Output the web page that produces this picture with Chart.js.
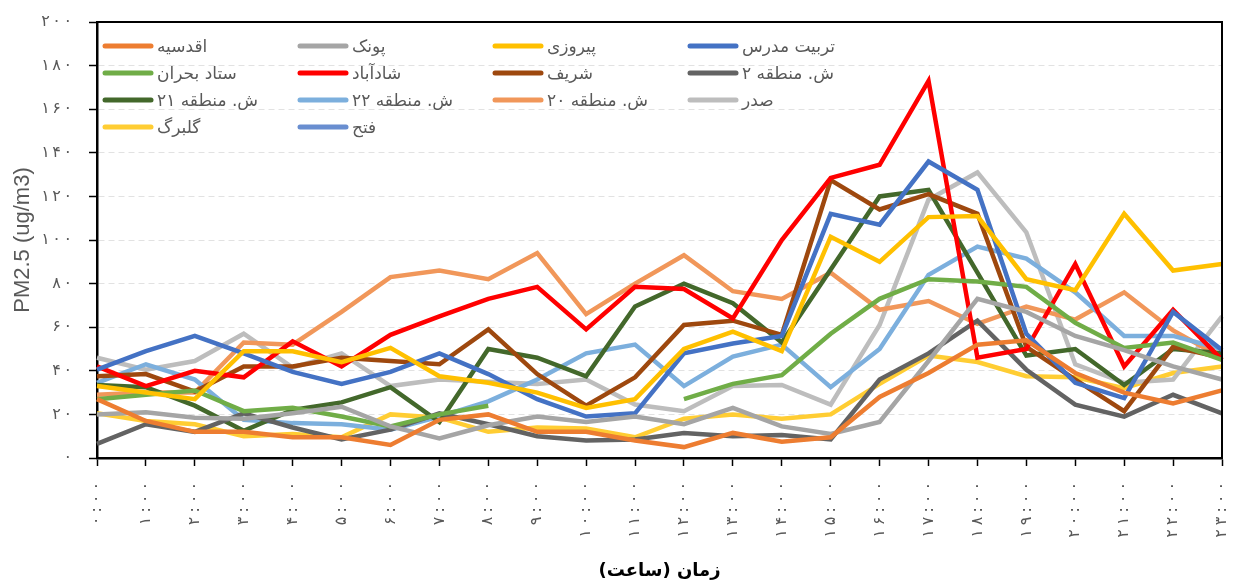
<!DOCTYPE html>
<html>
<head>
<meta charset="utf-8">
<script src="https://cdn.jsdelivr.net/npm/chart.js@4.4.1/dist/chart.umd.min.js"></script>
<style>
  html, body { margin: 0; padding: 0; background: #fff; }
  canvas { display: block; }
</style>
</head>
<body>
<canvas id="pm25Chart" width="1234" height="584"></canvas>
<script>
// ساعت‌های روز
const hourLabels = ['۰:۰۰', '۱:۰۰', '۲:۰۰', '۳:۰۰', '۴:۰۰', '۵:۰۰', '۶:۰۰', '۷:۰۰', '۸:۰۰', '۹:۰۰', '۱۰:۰۰', '۱۱:۰۰',
    '۱۲:۰۰', '۱۳:۰۰', '۱۴:۰۰', '۱۵:۰۰', '۱۶:۰۰', '۱۷:۰۰', '۱۸:۰۰', '۱۹:۰۰', '۲۰:۰۰', '۲۱:۰۰', '۲۲:۰۰', '۲۳:۰۰'];
const yTickLabels = ['۰', '۲۰', '۴۰', '۶۰', '۸۰', '۱۰۰', '۱۲۰', '۱۴۰', '۱۶۰', '۱۸۰', '۲۰۰'];

const stationNames = ['اقدسیه', 'پونک', 'پیروزی', 'تربیت مدرس', 'ستاد بحران', 'شادآباد', 'شریف',
    'ش. منطقه ۲', 'ش. منطقه ۲۱', 'ش. منطقه ۲۲', 'ش. منطقه ۲۰', 'صدر', 'گلبرگ', 'فتح'];
const stationColors = ['#ED7D31', '#A5A5A5', '#FFC000', '#4472C4', '#70AD47', '#FF0000', '#9E480E',
    '#636363', '#43682B', '#7CAFDD', '#F1975A', '#BDBDBD', '#FFCD33', '#698ED0'];

const aghdasieh = [27, 17, 12, 12, 9.5, 9.5, 6, 17.5, 20, 12, 12, 8, 5, 11.5, 7.5, 9.5, 28, 39, 52, 54, 39, 30, 25, 31];
const pounak = [20, 21, 18.5, 18, 20.5, 23.5, 14.5, 9, 15, 19, 16.5, 19, 15.5, 23, 14.5, 11, 16.5, 44.5, 73, 67, 56, 49.5, 42, 36];
const pirouzi = [33, 30, 27, 49, 49, 44, 50.5, 37.5, 34.5, 30, 23, 27, 50, 58, 49, 101.5, 90, 110.5, 111, 82, 77, 112, 86, 89];
const tarbiatModares = [40.5, 49, 56, 48, 39.5, 34, 39.5, 48, 38.5, 27, 19, 20.5, 48, 52.5, 56, 112, 107, 136, 123, 57, 34.5, 27.5, 67, 49.5];
const setadBohran = [27, 29, 31, 21.5, 23, 19, 14.5, 20, 24, null, null, null, 27, 34, 38, 57, 73, 82, 81, 78.5, 62, 50.5, 53, 45];
const shadabad = [42, 33, 40, 37, 53.5, 42, 56.5, 65, 73, 78.5, 59, 78.5, 77.5, 64, 100, 128.5, 134.5, 173, 46, 50, 89, 42, 68, 45];
const sharif = [37.5, 38.5, 30.5, 42, 42, 46, 44.5, 43, 59, 38.5, 24, 37, 61, 63, 56.5, 127.5, 114, 121, 112, 51, 36, 21.5, 51, 46];
const mantaghe2 = [6.5, 15.5, 12, 20.5, 14, 8.5, 13, 20.5, 15.5, 10, 8, 8.5, 11.5, 10, 10.5, 8.5, 36, 48, 63, 40.5, 24.5, 19, 29, 20.5];
const mantaghe21 = [33.5, 32.5, 24, 12.5, 22, 25.5, 32.5, 16.5, 50, 46, 37.5, 69.5, 80, 71, 53, 86.5, 120, 123, 85, 47, 50, 33.5, 50, 48];
const mantaghe22 = [34.5, 43, 36, 17.5, 16, 15.5, 13, 19, 26, 36, 48, 52, 33, 46.5, 52, 32.5, 50, 84, 97, 91.5, 76, 56, 56, 50];
const mantaghe20 = [29, 30, 30, 53, 52, 67, 83, 86, 82, 94, 66, 80, 93, 76.5, 73, 85, 68, 72, 61.5, 69.5, 63.5, 76, 58.5, 46];
const sadr = [46, 40.5, 44.5, 57, 41.5, 48, 33, 36, 35, 34, 36, 24.5, 21.5, 33, 33.5, 24.5, 61, 118.5, 131, 103.5, 43, 34.5, 36, 65];
const golbarg = [20.5, 17, 15.5, 10, 11, 9.5, 20, 18.5, 12, 14, 13.5, 9.5, 18, 20, 18, 20, 34, 47, 44, 37.5, 37, 32, 39, 42];
const fath = [];

const stationData = [aghdasieh, pounak, pirouzi, tarbiatModares, setadBohran, shadabad, sharif,
    mantaghe2, mantaghe21, mantaghe22, mantaghe20, sadr, golbarg, fath];

// tick labels are drawn after the datasets (ticks.z = 1).
// the digits in the original are spaced wider, so draw them one by one with a gap
const spacedTickText = {
    id: 'spacedTickText',
    afterDatasetsDraw(chart) {
        const ctx = chart.ctx;
        const plainFill = CanvasRenderingContext2D.prototype.fillText;
        ctx.fillText = function (text, x, y) {
            const chars = Array.from(String(text));
            const gap = ctx.getTransform().b !== 0 ? 4 : 2.5;
            const widths = chars.map(c => ctx.measureText(c).width);
            const total = widths.reduce((a, b) => a + b, 0) + gap * (chars.length - 1);
            const align = ctx.textAlign;
            let cx = x;
            if (align === 'right' || align === 'end') cx = x - total;
            else if (align === 'center') cx = x - total / 2;
            ctx.textAlign = 'left';
            chars.forEach((c, k) => {
                plainFill.call(ctx, c, cx, y);
                cx += widths[k] + gap;
            });
            ctx.textAlign = align;
        };
    },
    afterDraw(chart) {
        delete chart.ctx.fillText;
    }
};

// legend drawn inside the plot, 4 columns like the excel one
const insideLegend = {
    id: 'insideLegend',
    afterDraw(chart) {
        const { ctx, chartArea } = chart;
        ctx.save();
        ctx.font = '17px "DejaVu Sans", sans-serif';
        ctx.textBaseline = 'middle';
        ctx.direction = 'rtl';
        ctx.textAlign = 'left';
        chart.data.datasets.forEach((ds, i) => {
            const col = i % 4;
            const row = Math.floor(i / 4);
            const x = chartArea.left + 8 + col * 195;
            const y = chartArea.top + 24 + row * 27;
            ctx.strokeStyle = ds.borderColor;
            ctx.lineWidth = 5;
            ctx.lineCap = 'round';
            ctx.beginPath();
            ctx.moveTo(x, y);
            ctx.lineTo(x + 46, y);
            ctx.stroke();
            ctx.fillStyle = '#595959';
            ctx.fillText(ds.label, x + 52, y + 2);
        });
        ctx.restore();
    }
};

// top and right edges of the plot box
const plotFrame = {
    id: 'plotFrame',
    afterDraw(chart) {
        const { ctx, chartArea } = chart;
        ctx.save();
        ctx.strokeStyle = '#000';
        ctx.lineWidth = 2;
        ctx.beginPath();
        ctx.moveTo(chartArea.left, chartArea.top);
        ctx.lineTo(chartArea.right, chartArea.top);
        ctx.lineTo(chartArea.right, chartArea.bottom);
        ctx.stroke();
        ctx.restore();
    }
};

const ctx = document.getElementById('pm25Chart').getContext('2d');
new Chart(ctx, {
    type: 'line',
    data: {
        labels: hourLabels,
        datasets: stationNames.map((name, i) => ({
            label: name,
            data: stationData[i],
            borderColor: stationColors[i],
            backgroundColor: stationColors[i],
            borderWidth: 4.5,
            pointRadius: 0,
            tension: 0,
            fill: false,
            spanGaps: false
        }))
    },
    options: {
        responsive: false,
        animation: false,
        layout: { padding: { left: 8, top: 22, right: 12, bottom: 0 } },
        plugins: {
            legend: { display: false },
            tooltip: { enabled: false }
        },
        scales: {
            x: {
                afterFit(scale) {
                    scale.height = 126;
                    scale.paddingLeft = 0;
                    scale.paddingRight = 0;
                },
                grid: { drawOnChartArea: false, drawTicks: true, tickLength: 8, tickColor: '#000', tickWidth: 1.5 },
                border: { display: true, color: '#000', width: 2.5 },
                ticks: {
                    z: 1,
                    autoSkip: false,
                    minRotation: 90,
                    maxRotation: 90,
                    padding: 16,
                    color: '#595959',
                    font: { size: 16, family: '"DejaVu Sans", sans-serif' }
                },
                title: {
                    display: true,
                    text: '\u200Fزمان (ساعت)\u200F',
                    color: '#000',
                    font: { size: 18, weight: 'bold', family: '"DejaVu Sans", sans-serif' },
                    padding: { top: 0, bottom: 2 }
                }
            },
            y: {
                min: 0,
                max: 200,
                afterFit(scale) {
                    scale.width = 89;
                    scale.paddingTop = 0;
                    scale.paddingBottom = 0;
                },
                grid: { color: '#E2E2E2', lineWidth: 1, tickLength: 8, tickColor: '#000', tickWidth: 1.5 },
                border: { display: true, color: '#000', width: 2.5, dash: [6, 4] },
                ticks: {
                    z: 1,
                    stepSize: 20,
                    padding: 17,
                    color: '#595959',
                    font: { size: 16, family: '"DejaVu Sans", sans-serif' },
                    callback: (value, index) => yTickLabels[index]
                },
                title: {
                    display: true,
                    text: 'PM2.5 (ug/m3)',
                    color: '#595959',
                    font: { size: 22, family: '"Liberation Sans", Arial, sans-serif' },
                    padding: { top: 2, bottom: 4 }
                }
            }
        }
    },
    plugins: [spacedTickText, plotFrame, insideLegend]
});
</script>
</body>
</html>
